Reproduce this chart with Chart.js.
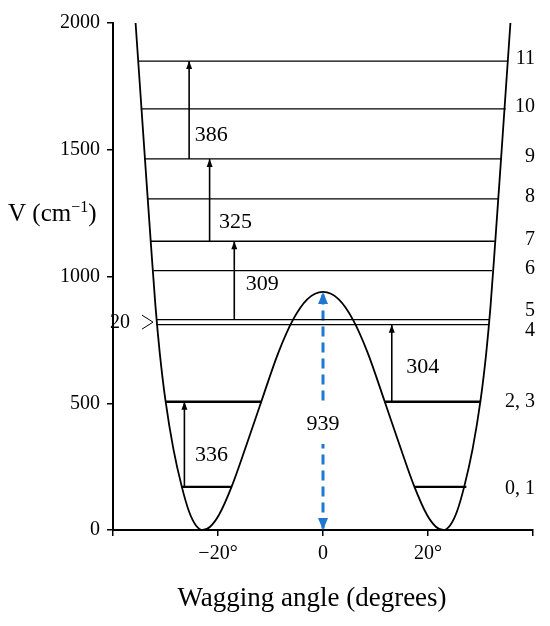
<!DOCTYPE html>
<html>
<head>
<meta charset="utf-8">
<script src="https://cdn.jsdelivr.net/npm/chart.js@4.4.0/dist/chart.umd.min.js"></script>
<style>
  html, body { margin: 0; padding: 0; background: #fff; }
  #wrap { width: 550px; height: 626px; }
</style>
</head>
<body>
<div id="wrap"><canvas id="wellChart" width="550" height="626"></canvas></div>
<script>
// double-well wagging potential (angle in degrees, V in cm-1)
var curveAngle = [-35.7, -34.7, -33.7, -32.75, -31.9, -31.1, -30.0, -28.5, -26.9, -25.5, -24.2, -22.9, -21.5, -19.8, -17.4, -14.5, -11.7, -8.5, -5.7, -3.0, 0,
                  3.0, 5.7, 8.5, 11.7, 14.5, 17.4, 19.8, 21.5, 22.9, 24.2, 25.5, 26.9, 28.5, 30.0, 31.1, 31.9, 32.75, 33.7, 34.7, 35.7];
var curveEnergy = [2000, 1700, 1400, 1120, 880, 700, 510, 320, 171, 72, 18, 0, 13, 60, 171, 340, 510, 700, 830, 910, 939,
                   910, 830, 700, 510, 340, 171, 60, 13, 0, 18, 72, 171, 320, 510, 700, 880, 1120, 1400, 1700, 2000];

// vibrational levels
var levelNames = ['0, 1', '2, 3', '4', '5', '6', '7', '8', '9', '10', '11'];
var levelEnergy = [170, 506, 810, 830, 1023, 1139, 1306, 1464, 1661, 1850];
var levelFrom = [-27.0, -30.0, -31.6, -31.7, -32.3, -32.8, -33.5, -34.1, -34.7, -35.2];
var levelTo = [27.3, 30.1, 31.6, 31.7, 32.2, 32.7, 33.4, 34.1, 34.8, 35.3];
// the two lowest (tunnelling) levels stop at the barrier wall
var barrierEdge = [17.4, 11.7];

// transitions (cm-1)
var transName = ['336', '304', '309', '325', '386'];
var transAngle = [-26.4, 13.1, -16.9, -21.6, -25.5];
var transFrom = [170, 506, 830, 1139, 1464];
var transTo = [506, 810, 1139, 1464, 1850];

var barrierHeight = 939;
var splitting = 20;

var tickAngles = [-20, 0, 20];
var tickText = ['\u221220\u00b0', '0', '20\u00b0'];

var serif = "'Liberation Serif', 'Times New Roman', serif";
var blue = '#1f77d2';

function pts(xs, ys) {
  return xs.map(function (x, i) { return { x: x, y: ys[i] }; });
}
function seg(x0, x1, y0, y1, w, color, dash) {
  return {
    data: [{ x: x0, y: y0 }, { x: x1, y: y1 }],
    borderColor: color || '#000', borderWidth: w, borderDash: dash || [],
    showLine: true, pointRadius: 0, tension: 0
  };
}

var datasets = [];
datasets.push({
  data: pts(curveAngle, curveEnergy),
  borderColor: '#000', borderWidth: 1.8, showLine: true, pointRadius: 0,
  cubicInterpolationMode: 'monotone'
});
levelEnergy.forEach(function (v, i) {
  if (i < barrierEdge.length) {
    datasets.push(seg(levelFrom[i], -barrierEdge[i], v, v, 2.4));
    datasets.push(seg(barrierEdge[i], levelTo[i], v, v, 2.4));
  } else {
    datasets.push(seg(levelFrom[i], levelTo[i], v, v, 1.3));
  }
});
transAngle.forEach(function (a, i) {
  datasets.push(seg(a, a, transFrom[i], transTo[i], 1.6));
});
datasets.push(seg(0, 0, 6, barrierHeight - 6, 3, blue, [10, 6]));

function head(ctx, x, y, dir, w, h, color) {
  // tip at (x, y); dir = -1 points up, +1 points down
  ctx.fillStyle = color;
  ctx.beginPath();
  ctx.moveTo(x, y);
  ctx.lineTo(x - w / 2, y - dir * h);
  ctx.lineTo(x + w / 2, y - dir * h);
  ctx.closePath();
  ctx.fill();
}

// label nudges in px relative to the arrow (dx from arrow, dy from arrow middle)
var transNudge = { '336': [27, 11], '304': [31, 4], '309': [28, 4], '325': [26, 22], '386': [22, 25] };
var levelNudge = { '4': 8, '5': -7, '2, 3': 2, '0, 1': 4 };

var annotate = {
  id: 'annotate',
  afterDatasetsDraw: function (chart) {
    var ctx = chart.ctx, xs = chart.scales.x, ys = chart.scales.y, area = chart.chartArea;
    ctx.save();

    // transition arrowheads and numbers
    ctx.font = '22px ' + serif;
    ctx.textAlign = 'center';
    ctx.textBaseline = 'middle';
    transAngle.forEach(function (a, i) {
      var px = xs.getPixelForValue(a);
      var top = ys.getPixelForValue(transTo[i]);
      var bot = ys.getPixelForValue(transFrom[i]);
      head(ctx, px, top, -1, 6, 8, '#000');
      var n = transNudge[transName[i]];
      ctx.fillStyle = '#000';
      ctx.fillText(transName[i], px + n[0], (top + bot) / 2 + n[1]);
    });

    // barrier arrow
    var bx = xs.getPixelForValue(0);
    var bTop = ys.getPixelForValue(barrierHeight);
    var bBot = ys.getPixelForValue(0);
    head(ctx, bx, bTop, -1, 10, 12, blue);
    head(ctx, bx, bBot, 1, 10, 12, blue);
    var ly = ys.getPixelForValue(418);
    ctx.fillStyle = '#fff';
    ctx.fillRect(bx - 20, ly - 20, 40, 40);
    ctx.fillStyle = '#000';
    ctx.fillText(String(barrierHeight), bx, ly);

    // level numbers on the right
    ctx.font = '20px ' + serif;
    ctx.textAlign = 'right';
    levelNames.forEach(function (name, i) {
      var y = ys.getPixelForValue(levelEnergy[i]) - 2 + (levelNudge[name] || 0);
      ctx.fillText(name, area.right + 2, y);
    });

    // 4/5 splitting marker on the left
    var sy = (ys.getPixelForValue(levelEnergy[2]) + ys.getPixelForValue(levelEnergy[3])) / 2;
    ctx.fillText(String(splitting), area.left + 17, sy + 1);
    ctx.strokeStyle = '#000';
    ctx.lineWidth = 1;
    ctx.beginPath();
    ctx.moveTo(area.left + 29, sy - 7);
    ctx.lineTo(area.left + 40, sy);
    ctx.lineTo(area.left + 29, sy + 7);
    ctx.stroke();

    // axis titles
    ctx.textAlign = 'left';
    ctx.textBaseline = 'alphabetic';
    ctx.font = '25px ' + serif;
    var tx = 8, ty = 221;
    ctx.fillText('V (cm', tx, ty);
    tx += ctx.measureText('V (cm').width;
    ctx.font = '16px ' + serif;
    ctx.fillText('\u22121', tx, ty - 9);
    tx += ctx.measureText('\u22121').width;
    ctx.font = '25px ' + serif;
    ctx.fillText(')', tx, ty);

    ctx.font = '27px ' + serif;
    ctx.textAlign = 'center';
    ctx.fillText('Wagging angle (degrees)', 312, 606);
    ctx.restore();
  }
};

new Chart(document.getElementById('wellChart').getContext('2d'), {
  type: 'scatter',
  data: { datasets: datasets },
  options: {
    responsive: false,
    animation: false,
    layout: { padding: { top: 23, right: 17, left: 0, bottom: 0 } },
    plugins: { legend: { display: false }, tooltip: { enabled: false } },
    scales: {
      x: {
        type: 'linear', min: -40, max: 40,
        afterFit: function (s) { s.height = 96; },
        grid: { drawOnChartArea: false, drawTicks: true, tickLength: 6, color: '#000', lineWidth: 1.5 },
        border: { color: '#000', width: 2 },
        ticks: {
          stepSize: 20, autoSkip: false, maxRotation: 0, padding: 6, color: '#000',
          font: { family: serif, size: 20 },
          callback: function (v) {
            var k = tickAngles.indexOf(v);
            return k < 0 ? '' : tickText[k];
          }
        }
      },
      y: {
        min: 0, max: 2000,
        afterFit: function (s) { s.width = 113; },
        grid: { drawOnChartArea: false, drawTicks: true, tickLength: 6, color: '#000', lineWidth: 1.5 },
        border: { color: '#000', width: 2 },
        ticks: {
          stepSize: 500, padding: 7, color: '#000',
          font: { family: serif, size: 20 },
          callback: function (v) { return String(v); }
        }
      }
    }
  },
  plugins: [annotate]
});
</script>
</body>
</html>
